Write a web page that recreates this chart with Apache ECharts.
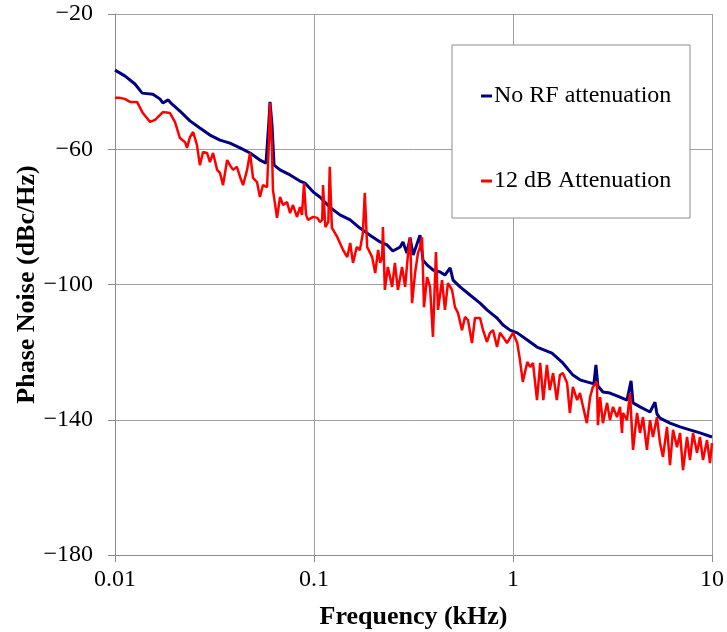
<!DOCTYPE html>
<html>
<head>
<meta charset="utf-8">
<title>Phase Noise</title>
<script src="https://cdn.jsdelivr.net/npm/echarts@6/dist/echarts.min.js"></script>
<style>
  html, body { margin: 0; padding: 0; background: #fff; }
  #chart { width: 727px; height: 632px; }
</style>
</head>
<body>
<div id="chart"></div>
<script>
// frequency (kHz) and phase noise (dBc/Hz)
const navyFreq = [0.0100, 0.0112, 0.0126, 0.0137, 0.0155, 0.0168, 0.0174, 0.0185, 0.0193, 0.0212,
  0.0238, 0.0267, 0.0300, 0.0337, 0.0378, 0.0425, 0.0477, 0.0535, 0.0574, 0.0594,
  0.0601, 0.0608, 0.0615, 0.0630, 0.0675, 0.0758, 0.0850, 0.0901, 0.0989, 0.107,
  0.120, 0.135, 0.152, 0.170, 0.191, 0.215, 0.233, 0.249, 0.271, 0.280,
  0.293, 0.304, 0.315, 0.341, 0.353, 0.370, 0.396, 0.430, 0.455, 0.483,
  0.500, 0.542, 0.608, 0.683, 0.740, 0.794, 0.831, 0.891, 0.966, 1.05,
  1.18, 1.32, 1.48, 1.57, 1.78, 2.00, 2.17, 2.35, 2.55, 2.61,
  2.67, 2.83, 3.07, 3.45, 3.74, 3.92, 4.01, 4.35, 4.88, 5.17,
  5.29, 5.48, 6.15, 6.91, 7.75, 8.70, 10.0];
const navyNoise = [-36.6, -38.3, -40.7, -43.4, -43.7, -45.1, -46.3, -45.4, -46.6, -48.7,
  -51.6, -53.7, -55.8, -57.3, -58.2, -59.6, -61.1, -63.2, -64.1, -51.4,
  -46.0, -45.7, -52.8, -64.7, -66.1, -67.6, -69.4, -70.0, -72.6, -74.1,
  -77.1, -79.4, -80.9, -83.3, -85.4, -87.4, -88.3, -90.1, -88.9, -87.4,
  -90.7, -86.2, -91.3, -85.4, -92.8, -94.2, -95.7, -96.3, -97.2, -95.1,
  -98.7, -100.7, -103.1, -105.5, -107.5, -109.0, -109.9, -112.0, -113.5, -114.3,
  -116.4, -118.5, -119.7, -120.3, -123.2, -126.8, -128.2, -128.8, -129.4, -123.8,
  -130.0, -131.8, -132.1, -133.3, -134.2, -128.5, -135.0, -136.2, -137.7, -134.8,
  -138.3, -139.5, -141.0, -142.1, -143.0, -143.9, -145.1];

const redFreq = [0.0100, 0.0106, 0.0112, 0.0119, 0.0129, 0.0138, 0.0150, 0.0159, 0.0174, 0.0189,
  0.0200, 0.0212, 0.0225, 0.0230, 0.0238, 0.0247, 0.0258, 0.0267, 0.0277, 0.0290,
  0.0300, 0.0311, 0.0326, 0.0337, 0.0349, 0.0366, 0.0378, 0.0392, 0.0410, 0.0425,
  0.0440, 0.0461, 0.0477, 0.0494, 0.0517, 0.0535, 0.0554, 0.0581, 0.0594, 0.0601,
  0.0608, 0.0615, 0.0622, 0.0652, 0.0675, 0.0699, 0.0732, 0.0758, 0.0784, 0.0821,
  0.0850, 0.0870, 0.0891, 0.0912, 0.0933, 0.0989, 0.104, 0.107, 0.110, 0.111,
  0.114, 0.118, 0.120, 0.123, 0.125, 0.131, 0.135, 0.140, 0.147, 0.152,
  0.157, 0.164, 0.170, 0.176, 0.180, 0.185, 0.196, 0.203, 0.210, 0.215,
  0.220, 0.222, 0.227, 0.235, 0.247, 0.255, 0.264, 0.277, 0.287, 0.297,
  0.304, 0.311, 0.322, 0.333, 0.341, 0.349, 0.357, 0.370, 0.383, 0.396,
  0.410, 0.420, 0.440, 0.455, 0.471, 0.494, 0.511, 0.529, 0.554, 0.574,
  0.594, 0.622, 0.644, 0.683, 0.707, 0.740, 0.766, 0.794, 0.831, 0.860,
  0.891, 0.933, 0.966, 1.00, 1.05, 1.08, 1.12, 1.18, 1.22, 1.26,
  1.32, 1.37, 1.42, 1.48, 1.53, 1.59, 1.66, 1.72, 1.78, 1.87,
  1.93, 2.00, 2.10, 2.17, 2.25, 2.35, 2.44, 2.52, 2.64, 2.67,
  2.74, 2.83, 2.97, 3.07, 3.18, 3.33, 3.45, 3.53, 3.57, 3.74,
  3.87, 4.01, 4.20, 4.35, 4.50, 4.71, 4.88, 5.05, 5.29, 5.48,
  5.67, 5.94, 6.15, 6.37, 6.67, 6.91, 7.15, 7.49, 7.75, 8.03,
  8.41, 8.70, 9.01, 9.44, 9.77, 10.0];
const redNoise = [-44.8, -44.8, -45.1, -46.0, -46.0, -49.3, -51.9, -51.3, -49.0, -49.3,
  -51.9, -56.7, -57.9, -59.6, -56.4, -54.9, -58.7, -64.7, -60.8, -61.1,
  -63.8, -61.1, -66.1, -67.0, -70.6, -63.2, -64.7, -66.1, -65.2, -68.2,
  -70.6, -66.1, -61.1, -68.5, -69.7, -74.1, -70.6, -71.2, -57.3, -46.3,
  -46.0, -60.2, -72.1, -80.3, -74.1, -76.5, -75.6, -78.9, -76.5, -80.0,
  -77.1, -79.4, -70.0, -79.4, -80.9, -80.0, -80.3, -81.5, -80.9, -70.6,
  -83.0, -81.5, -65.2, -83.3, -83.9, -86.0, -87.7, -89.8, -91.9, -87.7,
  -93.6, -88.9, -89.8, -84.8, -72.9, -88.9, -91.9, -96.6, -89.8, -93.6,
  -91.9, -83.0, -101.6, -94.8, -100.7, -93.6, -101.6, -94.8, -100.7, -90.7,
  -86.0, -105.5, -96.6, -90.7, -88.9, -86.0, -106.7, -97.8, -100.7, -115.5,
  -90.4, -107.5, -98.7, -107.5, -99.6, -101.6, -106.7, -108.4, -113.5, -109.6,
  -110.5, -117.3, -109.9, -109.9, -113.5, -117.0, -114.3, -113.5, -118.5, -114.3,
  -115.5, -117.3, -115.8, -114.3, -117.3, -121.7, -128.8, -122.9, -124.4, -123.2,
  -134.2, -123.2, -134.2, -123.8, -131.2, -126.2, -134.2, -126.8, -126.2, -129.1,
  -138.0, -130.3, -134.2, -132.1, -136.2, -141.0, -133.3, -130.3, -128.8, -141.6,
  -133.3, -141.0, -135.0, -140.1, -136.2, -139.2, -136.2, -143.9, -138.0, -140.1,
  -132.1, -148.9, -138.0, -143.9, -139.2, -148.9, -140.1, -145.1, -139.2, -146.9,
  -151.0, -142.1, -153.4, -143.0, -148.1, -143.9, -154.9, -145.1, -151.9, -143.9,
  -149.8, -145.1, -151.9, -146.0, -152.8, -146.9];

const freqTicks = [0.01, 0.1, 1, 10];
const noiseTicks = [-180, -140, -100, -60, -20];

const seriesNames = ["No RF attenuation", "12 dB Attenuation"];

const chart = echarts.init(document.getElementById("chart"), null, { renderer: "canvas" });

const serif = "Liberation Serif";

chart.setOption({
  animation: false,
  backgroundColor: "#fff",
  grid: { left: 115, right: 15, top: 14, bottom: 77, containLabel: false, outerBoundsMode: "none" },
  graphic: [
    {
      type: "rect",
      shape: { x: 452, y: 45, width: 238, height: 173 },
      style: { fill: "#fff", stroke: "#8c8c8c", lineWidth: 1 },
      z: 10
    }
  ],
  legend: {
    orient: "vertical",
    left: 476,
    top: 79,
    itemGap: 61,
    itemWidth: 11,
    itemHeight: 3,
    icon: "rect",
    z: 20,
    textStyle: { fontFamily: serif, fontSize: 24, color: "#000", padding: [0, 0, 0, -3] },
    data: seriesNames
  },
  xAxis: {
    type: "log",
    logBase: 10,
    min: freqTicks[0],
    max: freqTicks[freqTicks.length - 1],
    name: "Frequency (kHz)",
    nameLocation: "middle",
    nameGap: 49,
    nameMoveOverlap: false,
    nameTextStyle: { fontFamily: serif, fontSize: 26, fontWeight: "bold", color: "#000" },
    axisLine: { show: true, lineStyle: { color: "#8c8c8c", width: 1 } },
    axisTick: { show: true, inside: false, length: 7, lineStyle: { color: "#8c8c8c" } },
    minorTick: { show: false },
    axisLabel: {
      fontFamily: serif, fontSize: 24, color: "#000", margin: 13,
      formatter: v => String(freqTicks.find(t => Math.abs(Math.log10(t) - Math.log10(v)) < 1e-6) ?? v)
    },
    splitLine: { show: true, lineStyle: { color: "#a0a0a0", width: 1 } }
  },
  yAxis: {
    type: "value",
    min: noiseTicks[0],
    max: noiseTicks[noiseTicks.length - 1],
    interval: 40,
    name: "Phase Noise (dBc/Hz)",
    nameLocation: "middle",
    nameGap: 75,
    nameMoveOverlap: false,
    nameTextStyle: { fontFamily: serif, fontSize: 26, fontWeight: "bold", color: "#000" },
    axisLine: { show: true, lineStyle: { color: "#8c8c8c", width: 1 } },
    axisTick: { show: true, inside: false, length: 7, lineStyle: { color: "#8c8c8c" } },
    axisLabel: {
      fontFamily: serif, fontSize: 24, color: "#000", margin: 22,
      formatter: v => String(v).replace("-", "\u2212")
    },
    splitLine: { show: true, lineStyle: { color: "#a0a0a0", width: 1 } }
  },
  series: [
    {
      name: seriesNames[0],
      type: "line",
      showSymbol: false,
      symbol: "none",
      color: "#000080",
      lineStyle: { width: 3, color: "#000080" },
      data: navyFreq.map((f, i) => [f, navyNoise[i]])
    },
    {
      name: seriesNames[1],
      type: "line",
      showSymbol: false,
      symbol: "none",
      color: "#ff0000",
      lineStyle: { width: 2.5, color: "#ff0000" },
      data: redFreq.map((f, i) => [f, redNoise[i]])
    }
  ]
});
</script>
</body>
</html>
